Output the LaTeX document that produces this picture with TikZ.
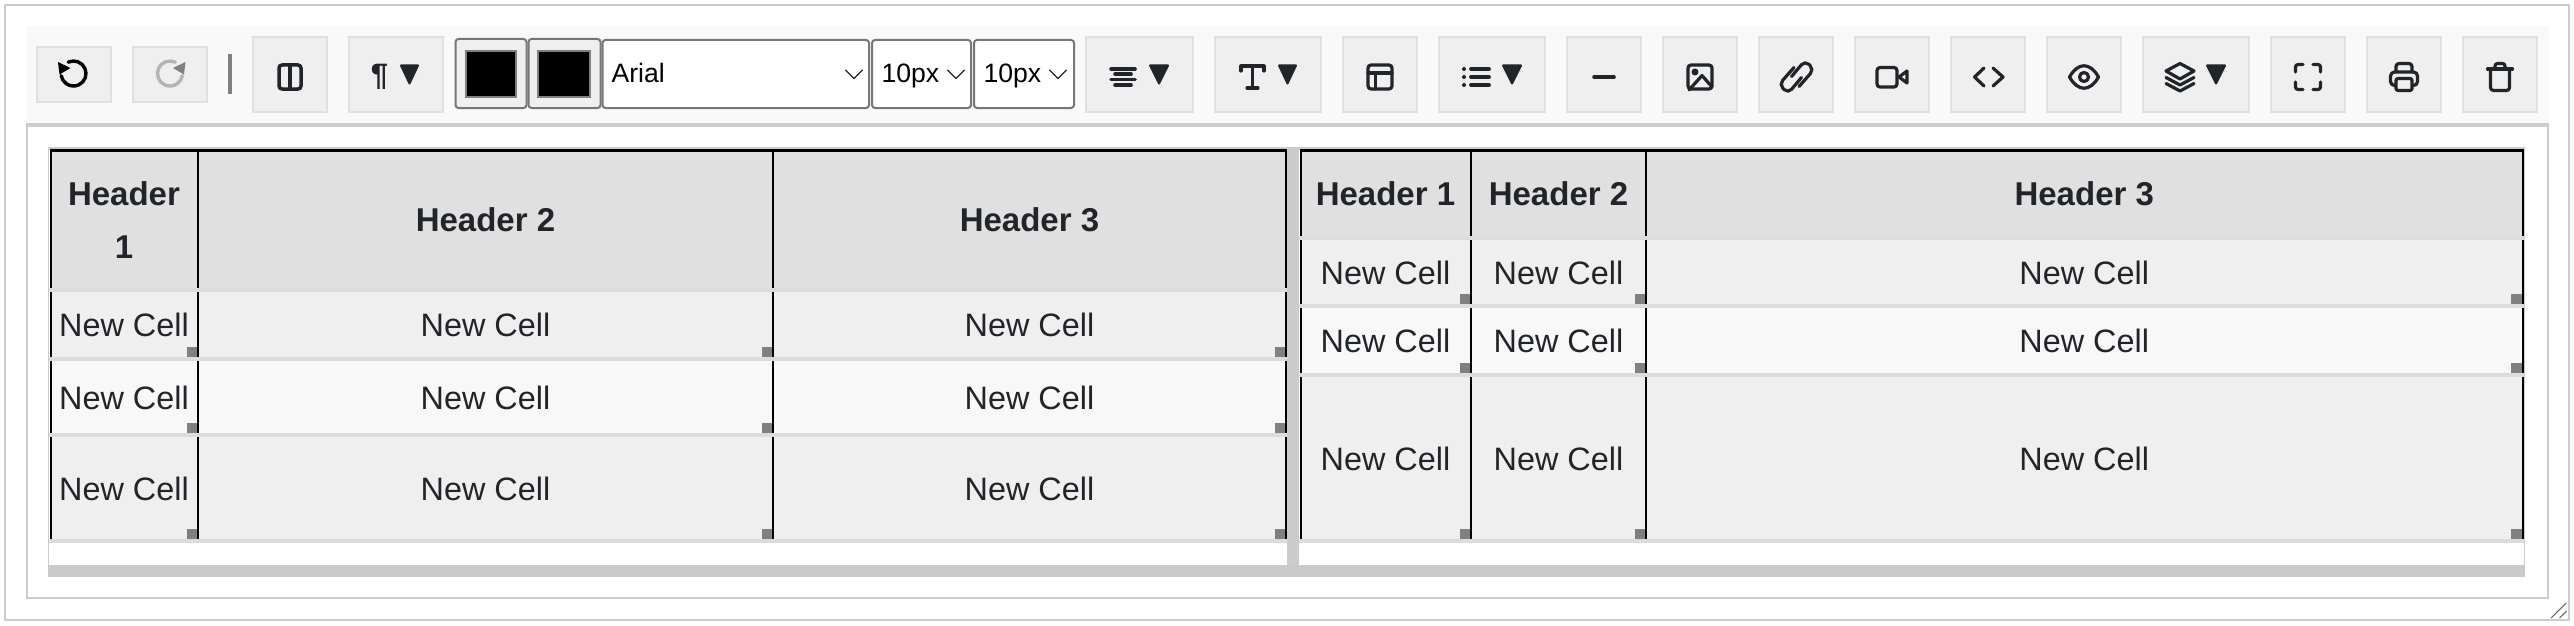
\documentclass[tikz,border=0pt]{standalone}
\usepackage{fontspec}
\setmainfont{Liberation Sans}
\definecolor{ink}{HTML}{212529}
\definecolor{frame}{HTML}{CCCCCC}
\definecolor{barbg}{HTML}{F9F9F9}
\definecolor{btnfill}{HTML}{EFEFEF}
\definecolor{btnline}{HTML}{E0E0E0}
\definecolor{ctl}{HTML}{767676}
\definecolor{headfill}{HTML}{E0E0E0}
\definecolor{oddfill}{HTML}{EFEFEF}
\definecolor{evenfill}{HTML}{F8F8F8}
\definecolor{rowline}{HTML}{DCDCE0}
\definecolor{handlegray}{HTML}{808080}
\definecolor{scrollgray}{HTML}{CACACA}
\definecolor{disabledgray}{HTML}{B4B4B4}
\tikzset{
  plainbox/.style={inner sep=0pt,outer sep=0pt,rectangle},
  btn/.style={plainbox,fill=btnfill,draw=btnline,line width=2pt},
  btnoff/.style={btn},
  swatch/.style={plainbox,fill=btnfill,draw=ctl,line width=2pt,rounded corners=3pt},
  swatchin/.style={plainbox,fill=black,draw=handlegray,line width=2.5pt},
  selectbox/.style={plainbox,fill=white,draw=ctl,line width=2pt,rounded corners=3pt},
  selecttext/.style={inner sep=0pt,outer sep=0pt,anchor=base west,text=black,font=\fontsize{26.6}{30}\selectfont},
  chev/.style={draw=black!85,line width=1.3pt,line cap=round,line join=round},
  headcell/.style={plainbox,fill=headfill},
  oddcell/.style={plainbox,fill=oddfill},
  evencell/.style={plainbox,fill=evenfill},
  headtext/.style={inner sep=0pt,outer sep=0pt,text=ink,align=center,yshift=-1pt,font=\fontsize{33}{52.5}\selectfont\bfseries},
  celltext/.style={inner sep=0pt,outer sep=0pt,text=ink,text height=23pt,text depth=0pt,yshift=-0.5pt,font=\fontsize{32.4}{40}\selectfont},
  handlebox/.style={plainbox,fill=handlegray},
  icon/.style={draw=ink,line width=3.2pt,line cap=round,line join=round},
  tip/.style={fill=ink,draw=ink,line width=2pt,line join=round},
  gridline/.style={draw=black,line width=2pt},
}
% box given by its edges: name, x1, x2, y1, y2, style
\newcommand{\edgebox}[6]{\node[#6,minimum width={(#3-(#2))*1pt},minimum height={(#5-(#4))*1pt}] (#1) at ({(#2+#3)/2},{(#4+#5)/2}) {};}
\newcommand{\headcellat}[6]{\edgebox{#1}{#2}{#3}{#4}{#5}{headcell}\node[headtext] (#1t) at (#1.center) {#6};}
\newcommand{\bodycell}[6]{\edgebox{#1}{#2}{#3}{#4}{#5}{#6}\node[celltext] (#1t) at (#1.center) {New Cell};%
  \edgebox{#1h}{#3-11.5}{#3}{#5-10.5}{#5}{handlebox}}
\newcommand{\tri}[2]{\fill[tip] (#1+1,65.5) -- (#2-1,65.5) -- ({(#1+#2)/2},83.5) -- cycle;}
\begin{document}
\begin{tikzpicture}[x=1pt,y=-1pt]
\useasboundingbox (0,0) rectangle (2574,626);
\fill[white] (0,0) rectangle (2574,626);
% outer frames
\draw[frame,line width=2pt] (5,5) rectangle (2568.5,620);
\draw[frame,line width=2pt] (27,123) -- (27,598) -- (2547.5,598) -- (2547.5,123);
% toolbar
\fill[barbg] (26,26) rectangle (2548.5,123);
\fill[frame] (26,123) rectangle (2548.5,127);
% buttons
\edgebox{undo}{37}{111}{47}{102}{btn}
\edgebox{redo}{133}{207}{47}{102}{btnoff}
\fill[handlegray] (228,54) rectangle (232,94);
\edgebox{split}{253}{327}{37}{112}{btn}
\edgebox{para}{349}{443}{37}{112}{btn}
\edgebox{colA}{455.5}{526.5}{39}{108}{swatch}
\edgebox{colAi}{466}{516}{51}{97}{swatchin}
\edgebox{colB}{528.5}{600.5}{39}{108}{swatch}
\edgebox{colBi}{538}{590}{51}{97}{swatchin}
\edgebox{fontsel}{602.5}{869}{40}{108}{selectbox}
\edgebox{sizeA}{872}{971}{40}{108}{selectbox}
\edgebox{sizeB}{974}{1074}{40}{108}{selectbox}
\edgebox{align}{1086}{1193}{37}{112}{btn}
\edgebox{typeT}{1215}{1321}{37}{112}{btn}
\edgebox{table}{1343}{1417}{37}{112}{btn}
\edgebox{listb}{1439}{1545}{37}{112}{btn}
\edgebox{hrule}{1567}{1641}{37}{112}{btn}
\edgebox{image}{1663}{1737}{37}{112}{btn}
\edgebox{linkb}{1759}{1833}{37}{112}{btn}
\edgebox{video}{1855}{1929}{37}{112}{btn}
\edgebox{codeb}{1951}{2025}{37}{112}{btn}
\edgebox{eyeb}{2047}{2121}{37}{112}{btn}
\edgebox{layer}{2143}{2249}{37}{112}{btn}
\edgebox{fulls}{2271}{2345}{37}{112}{btn}
\edgebox{print}{2367}{2441}{37}{112}{btn}
\edgebox{trash}{2463}{2537}{37}{112}{btn}
% select texts
\node[selecttext] (fontname) at (611.5,82.7) {Arial};
\node[selecttext] (sizeAt) at (881.5,82.7) {10px};
\node[selecttext] (sizeBt) at (983.5,82.7) {10px};
\draw[chev] (845.5,70) -- (854,78.5) -- (862.5,70);
\draw[chev] (947.5,70) -- (956,78.5) -- (964.5,70);
\draw[chev] (1049.5,70) -- (1058,78.5) -- (1066.5,70);
% undo / redo
\draw[icon,draw=black,line width=3.4pt] (73.5,73.5) ++(-115:12.5) arc[start angle=-115,end angle=170,radius=12.5];
\fill[black] (58,62) -- (70.5,68) -- (59.5,74.5) -- cycle;
\draw[icon,draw=disabledgray,line width=3.4pt] (170,73.5) ++(-65:12.5) arc[start angle=-65,end angle=-350,radius=12.5];
\fill[handlegray] (185.5,62) -- (173,68) -- (184,74.5) -- cycle;
% split
\draw[icon,line width=3.5pt,rounded corners=3pt] (279,65) rectangle (301,89);
\draw[icon,line width=3.5pt] (290,65) -- (290,89);
% pilcrow
\node[inner sep=0pt,outer sep=0pt,text=ink,font=\fontsize{31}{31}\selectfont\bfseries] (pilcrow) at (379.5,76.5) {¶};
\tri{400}{419}
% align
\draw[icon,line width=3.6pt] (1111,69) -- (1135,69);
\draw[icon,line width=3.6pt] (1115,74) -- (1131,74);
\draw[icon,line width=3.6pt] (1111,79.5) -- (1135,79.5);
\draw[icon,line width=3.6pt] (1115,85) -- (1131,85);
\tri{1149}{1169}
% type
\draw[icon] (1241,71) -- (1241,66) -- (1264,66) -- (1264,71);
\draw[icon,line width=3.8pt] (1252.5,66) -- (1252.5,88);
\draw[icon] (1247,88) -- (1258,88);
\tri{1278}{1297}
% table
\draw[icon,rounded corners=3pt] (1368,65) rectangle (1392,89);
\draw[icon] (1368,73) -- (1392,73);
\draw[icon] (1375.5,73) -- (1375.5,89);
% list
\foreach \yy in {69,77,85}{
  \fill[ink] (1464,\yy) circle[radius=2pt];
  \draw[icon,line width=3.8pt] (1471,\yy) -- (1489,\yy);
}
\tri{1502}{1522}
% horizontal rule
\draw[icon,line width=3.6pt] (1594,77) -- (1614,77);
% image
\draw[icon,rounded corners=3pt] (1688,65) rectangle (1712,89);
\fill[ink] (1695,72) circle[radius=3.5pt];
\draw[icon] (1689,90) -- (1702,75.5) -- (1712,87);
% link
\draw[icon,rounded corners=5.5pt] (1791.5,76.5) -- (1805,60.5) -- (1814,69.5) -- (1799,86.5);
\draw[icon,rounded corners=5.5pt] (1801.5,77.5) -- (1788,93.5) -- (1779,84.5) -- (1794,67.5);
% video
\draw[icon,rounded corners=3pt] (1877,67.5) rectangle (1897,87);
\draw[icon] (1899,77) -- (1907,71) -- (1907,83) -- cycle;
% code
\draw[icon] (1984,68) -- (1974.5,77) -- (1984,86);
\draw[icon] (1993,68) -- (2003,77) -- (1993,86);
% eye
\draw[icon] (2069.5,77) .. controls (2078,62) and (2090,62) .. (2098.5,77) .. controls (2090,92) and (2078,92) .. (2069.5,77) -- cycle;
\draw[icon] (2084,77) circle[radius=4.5pt];
% layers
\draw[icon] (2180,63.5) -- (2194,71) -- (2180,79) -- (2166,71) -- cycle;
\draw[icon] (2166,77.5) -- (2180,85) -- (2194,77.5);
\draw[icon] (2166,83.5) -- (2180,91) -- (2194,83.5);
\tri{2206}{2226}
% fullscreen
\draw[icon,rounded corners=2.5pt] (2295.5,72) -- (2295.5,64.5) -- (2303,64.5);
\draw[icon,rounded corners=2.5pt] (2313,64.5) -- (2320.5,64.5) -- (2320.5,72);
\draw[icon,rounded corners=2.5pt] (2295.5,82) -- (2295.5,89.5) -- (2303,89.5);
\draw[icon,rounded corners=2.5pt] (2313,89.5) -- (2320.5,89.5) -- (2320.5,82);
% print
\draw[icon,rounded corners=3pt] (2396,72) -- (2396,63.5) -- (2412,63.5) -- (2412,72);
\draw[icon,rounded corners=4pt] (2395,85.5) -- (2390.5,85.5) -- (2390.5,72) -- (2417.5,72) -- (2417.5,85.5) -- (2413,85.5);
\draw[icon,rounded corners=2pt] (2396,78.5) rectangle (2412,90.5);
% trash
\draw[icon] (2487.5,69) -- (2512.5,69);
\draw[icon,rounded corners=2.5pt] (2495,69) -- (2495,63.5) -- (2505,63.5) -- (2505,69);
\draw[icon,rounded corners=3pt] (2490.5,69) -- (2490.5,90.5) -- (2509.5,90.5) -- (2509.5,69);
% table surround
\fill[frame] (48,147) rectangle (2525,149.5);
\fill[frame] (48,147) rectangle (49.2,565);
\fill[frame] (2523.8,147) rectangle (2525,565);
\fill[frame] (1287,147) rectangle (1299,565);
\fill[scrollgray] (48,565) rectangle (2525,577);
% left table
\headcellat{la}{50}{198}{150}{288}{Header\\1}
\headcellat{lb}{198}{773}{150}{288}{Header 2}
\headcellat{lc}{773}{1286}{150}{288}{Header 3}
\foreach \cc/\ca/\cb in {a/50/198,b/198/773,c/773/1286}{
  \bodycell{l\cc1}{\ca}{\cb}{292}{357}{oddcell}
  \bodycell{l\cc2}{\ca}{\cb}{361}{433}{evencell}
  \bodycell{l\cc3}{\ca}{\cb}{437}{539}{oddcell}
}
% right table
\headcellat{ra}{1300}{1471}{150}{236}{Header 1}
\headcellat{rb}{1471}{1646}{150}{236}{Header 2}
\headcellat{rc}{1646}{2522.5}{150}{236}{Header 3}
\foreach \cc/\ca/\cb in {a/1300/1471,b/1471/1646,c/1646/2522.5}{
  \bodycell{r\cc1}{\ca}{\cb}{240}{304}{oddcell}
  \bodycell{r\cc2}{\ca}{\cb}{308}{373}{evencell}
  \bodycell{r\cc3}{\ca}{\cb}{377}{539}{oddcell}
}
% grid lines
\foreach \xx in {50.5,198,773,1286,1300.5,1471,1646,2522.5}{
  \draw[gridline] (\xx,150) -- (\xx,539);
}
\draw[black,line width=3pt] (50,150.5) -- (1287,150.5);
\draw[black,line width=3pt] (1300,150.5) -- (2523.5,150.5);
% row separators
\foreach \yy in {288,357,433,539}{\fill[rowline] (49,\yy) rectangle (1287,\yy+4);}
\foreach \yy in {236,304,373,539}{\fill[rowline] (1299,\yy) rectangle (2523.5,\yy+4);}
% resize grip
\draw[black!60,line width=1pt] (2551,618) -- (2566,603);
\draw[black!60,line width=1pt] (2559.5,618) -- (2566.5,611);
\end{tikzpicture}
\end{document}
